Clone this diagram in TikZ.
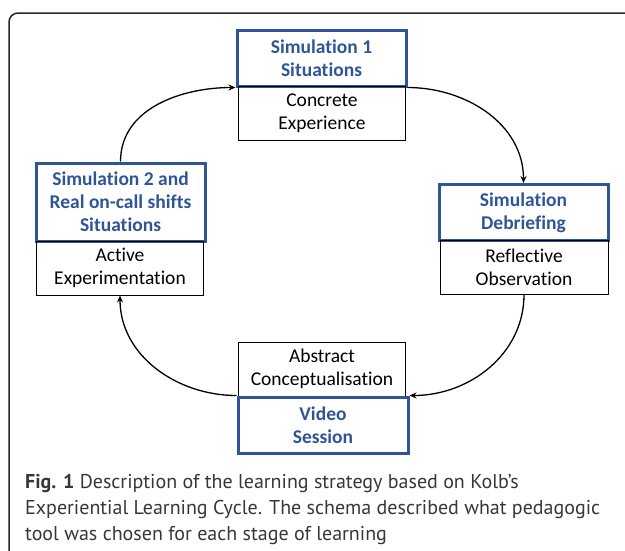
\documentclass[tikz,border=0pt]{standalone}
\usepackage{fontspec}
\setmainfont{Carlito}[Ligatures=NoCommon]
\newfontfamily\capfont{PT Sans}
\usetikzlibrary{arrows.meta}
\definecolor{toolblue}{RGB}{47,85,151}
\definecolor{captiongray}{RGB}{55,55,55}
\begin{document}
\begin{tikzpicture}[
                x=1pt, y=-1pt,
                tool/.style={rectangle,draw=toolblue,line width=3pt,minimum width=169pt,minimum height=56pt,
                             text=toolblue,font=\fontsize{19.5}{23}\selectfont\bfseries,align=center,inner sep=0pt},
                stage/.style={rectangle,draw=black,line width=1pt,minimum width=167pt,minimum height=54pt,
                              font=\fontsize{19.5}{23}\selectfont,align=center,inner sep=0pt},
                cycle/.style={-{Stealth[length=7pt,width=6pt]},line width=1.3pt},
            ]
            \useasboundingbox (0,0) rectangle (625,550);

            % Frame
            \draw[line width=1.5pt,rounded corners=9pt,draw=black!85] (9,570) -- (9,13) -- (640,13);

            % Define nodes
            \node[tool] (T1) at (321.5,58) {Simulation 1\\Situations};
            \node[stage] (T2) at (322,113.5) {Concrete\\Experience};
            \node[tool,minimum height=78pt] (L1) at (120.5,202) {Simulation 2 and\\Real on-call shifts\\Situations};
            \node[stage] (L2) at (120,268) {Active\\Experimentation};
            \node[tool] (R1) at (523.5,212.5) {Simulation\\Debriefing};
            \node[stage,minimum width=168pt] (R2) at (524,267) {Reflective\\Observation};
            \node[stage] (B1) at (322,369) {Abstract\\Conceptualisation};
            \node[tool,minimum width=170pt] (B2) at (323,425) {Video\\Session};

            % Draw connections
            \draw[cycle] (L1.north) to[out=90,in=180] (T1.south west);
            \draw[cycle] (T1.south east) to[out=0,in=90] (R1.north);
            \draw[cycle] (R2.south) to[out=-90,in=0] (B2.north east);
            \draw[cycle] (B2.north west) to[out=180,in=-90] (L2.south);

            % Caption
            \node[anchor=base west,align=left,inner sep=0pt,text=captiongray,
                  font=\capfont\fontsize{20}{26}\selectfont] (cap) at (25,540)
                 {\textbf{Fig. 1} Description of the learning strategy based on Kolb’s\\
                  Experiential Learning Cycle. The schema described what pedagogic\\
                  tool was chosen for each stage of learning};
            \end{tikzpicture}
\end{document}
